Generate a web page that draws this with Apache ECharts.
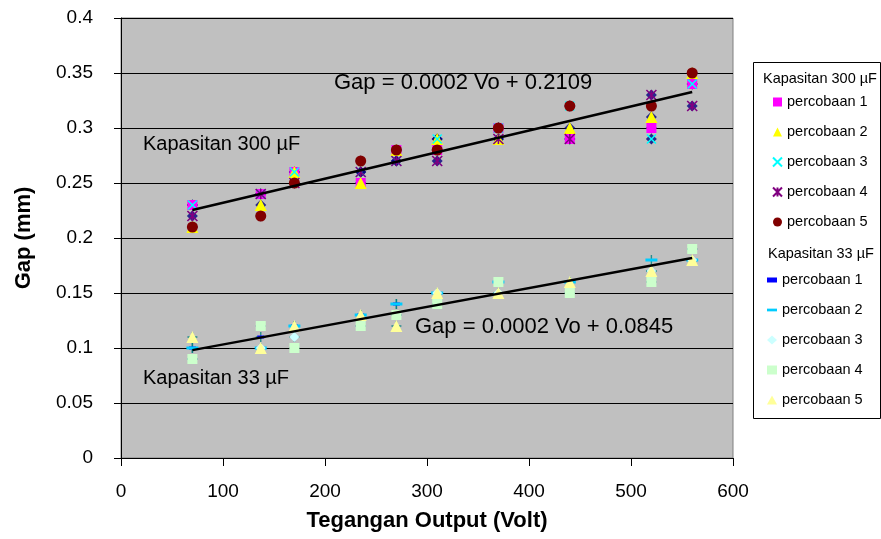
<!DOCTYPE html>
<html>
<head>
<meta charset="utf-8">
<script src="https://cdn.jsdelivr.net/npm/echarts@6/dist/echarts.min.js"></script>
<style>
  html, body { margin: 0; padding: 0; background: #fff; }
  #chart { width: 881px; height: 539px; }
</style>
</head>
<body>
<div id="chart"></div>
<script>
// tegangan output (volt)
var voltage = [70, 137, 170, 235, 270, 310, 370, 440, 520, 560];

// Kapasitan 300 uF, gap (mm)
var gap300P1 = [0.23, 0.24, 0.26, 0.25, 0.28, 0.28, 0.30, 0.29, 0.30, 0.34];
var gap300P2 = [0.21, 0.23, 0.26, 0.25, 0.28, 0.29, 0.29, 0.30, 0.31, 0.35];
var gap300P3 = [0.23, 0.24, 0.26, 0.26, 0.27, 0.29, 0.30, 0.32, 0.29, 0.34];
var gap300P4 = [0.22, 0.24, 0.25, 0.26, 0.27, 0.27, 0.29, 0.29, 0.33, 0.32];
var gap300P5 = [0.21, 0.22, 0.25, 0.27, 0.28, 0.28, 0.30, 0.32, 0.32, 0.35];

// Kapasitan 33 uF, gap (mm)
var gap33P1 = [0.10, 0.11, 0.12, 0.13, 0.14, 0.14, 0.16, 0.16, 0.17, 0.19];
var gap33P2 = [0.10, 0.10, 0.12, 0.13, 0.14, 0.15, 0.16, 0.16, 0.18, 0.18];
var gap33P3 = [0.09, 0.10, 0.11, 0.12, 0.13, 0.15, 0.15, 0.15, 0.17, 0.18];
var gap33P4 = [0.09, 0.12, 0.10, 0.12, 0.13, 0.14, 0.16, 0.15, 0.16, 0.19];
var gap33P5 = [0.11, 0.10, 0.12, 0.13, 0.12, 0.15, 0.15, 0.16, 0.17, 0.18];

var trialNames = ['percobaan 1', 'percobaan 2', 'percobaan 3', 'percobaan 4', 'percobaan 5'];
var groupNames = ['Kapasitan 300 µF', 'Kapasitan 33 µF'];
var equations = ['Gap = 0.0002 Vo + 0.2109', 'Gap = 0.0002 Vo + 0.0845'];

var xTicks = { min: 0, max: 600, step: 100 };
var yTicks = { min: 0, max: 0.4, step: 0.05 };

var FONT = 'Liberation Sans, Arial, sans-serif';

function pairs(ys) {
    return voltage.map(function (v, i) { return [v, ys[i]]; });
}

// semua titik satu kelompok, untuk garis trend (least squares seperti Excel)
function allPoints(list) {
    var pts = [];
    list.forEach(function (ys) { pts = pts.concat(pairs(ys)); });
    return pts;
}

function trend(pts) {
    var n = pts.length, sx = 0, sy = 0, sxx = 0, sxy = 0;
    pts.forEach(function (p) { sx += p[0]; sy += p[1]; sxx += p[0] * p[0]; sxy += p[0] * p[1]; });
    var b = (n * sxy - sx * sy) / (n * sxx - sx * sx);
    var a = (sy - b * sx) / n;
    var x0 = Math.min.apply(null, voltage), x1 = Math.max.apply(null, voltage);
    return [[x0, a + b * x0], [x1, a + b * x1]];
}

var all300 = allPoints([gap300P1, gap300P2, gap300P3, gap300P4, gap300P5]);
var all33 = allPoints([gap33P1, gap33P2, gap33P3, gap33P4, gap33P5]);

var X_PATH = 'path://M0,0L10,10M10,0L0,10';
var STAR_PATH = 'path://M0,0L10,10M10,0L0,10M5,0L5,10';
var PLUS_PATH = 'path://M5,0L5,10M0,5L10,5';
var SHORT_DASH = 'path://M0,0L5,0L5,2.5L0,2.5Z';
var LONG_DASH = 'path://M0,0L11,0L11,3L0,3Z';

function scatter(name, ys, symbol, size, color, stroke) {
    var s = {
        name: name,
        type: 'scatter',
        data: pairs(ys),
        symbol: symbol,
        symbolSize: size,
        itemStyle: { color: color, opacity: 1 }
    };
    if (stroke) {
        s.itemStyle.borderColor = color;
        s.itemStyle.borderWidth = 1.6;
    }
    return s;
}

var series = [
    // titik gabungan (di belakang)
    { name: groupNames[0], type: 'scatter', data: all300, symbol: 'diamond', symbolSize: 11,
      itemStyle: { color: '#000080' } },
    { name: groupNames[1], type: 'scatter', data: all33, symbol: PLUS_PATH, symbolSize: 10,
      itemStyle: { color: '#008080', borderColor: '#008080', borderWidth: 1.4 } },

    scatter('300-1', gap300P1, 'rect', 10, '#ff00ff'),
    scatter('300-2', gap300P2, 'triangle', 12, '#ffff00'),
    scatter('300-3', gap300P3, X_PATH, 9, '#00ffff', true),
    scatter('300-4', gap300P4, STAR_PATH, 10, '#800080', true),
    scatter('300-5', gap300P5, 'circle', 11, '#800000'),

    scatter('33-1', gap33P1, 'rect', [7, 3], '#0000ff'),
    scatter('33-2', gap33P2, 'rect', [12, 3], '#00ccff'),
    scatter('33-3', gap33P3, 'diamond', 10, '#ccffff'),
    scatter('33-4', gap33P4, 'rect', 10, '#ccffcc'),
    scatter('33-5', gap33P5, 'triangle', 12, '#ffff99'),

    { name: 'trend300', type: 'line', data: trend(all300), symbol: 'none', silent: true,
      lineStyle: { color: '#000', width: 2.5 }, z: 5 },
    { name: 'trend33', type: 'line', data: trend(all33), symbol: 'none', silent: true,
      lineStyle: { color: '#000', width: 2.5 }, z: 5 }
];

function legendBlock(prefix, left, top, width, icons) {
    return {
        orient: 'vertical',
        left: left,
        top: top,
        padding: 0,
        itemWidth: width,
        itemHeight: 9,
        itemGap: 14,
        selectedMode: false,
        data: [1, 2, 3, 4, 5].map(function (k, i) {
            var d = { name: prefix + '-' + k };
            if (icons && icons[i]) d.icon = icons[i];
            return d;
        }),
        formatter: function (name) { return trialNames[+name.split('-')[1] - 1]; },
        textStyle: { fontFamily: FONT, fontSize: 14.5, color: '#000', lineHeight: 16 }
    };
}

var chart = echarts.init(document.getElementById('chart'));

var option = {
    backgroundColor: '#fff',
    animation: false,
    grid: {
        left: 121, right: 148, top: 18, bottom: 81,
        show: true, backgroundColor: '#c0c0c0', borderColor: '#808080', borderWidth: 1
    },
    xAxis: {
        type: 'value',
        min: xTicks.min, max: xTicks.max, interval: xTicks.step,
        name: 'Tegangan Output (Volt)',
        nameLocation: 'middle',
        nameGap: 52,
        nameTextStyle: { fontFamily: FONT, fontSize: 22, fontWeight: 'bold', color: '#000' },
        axisLine: { show: true, lineStyle: { color: '#000', width: 1 } },
        axisTick: { show: true, length: 8, lineStyle: { color: '#000' } },
        axisLabel: { margin: 24, fontFamily: FONT, fontSize: 19, color: '#000' },
        splitLine: { show: false }
    },
    yAxis: {
        type: 'value',
        min: yTicks.min, max: yTicks.max, interval: yTicks.step,
        name: 'Gap (mm)',
        nameLocation: 'middle',
        nameGap: 86,
        nameTextStyle: { fontFamily: FONT, fontSize: 22, fontWeight: 'bold', color: '#000' },
        axisLine: { show: true, lineStyle: { color: '#000', width: 1 } },
        axisTick: { show: true, length: 7, lineStyle: { color: '#000' } },
        axisLabel: { margin: 28, fontFamily: FONT, fontSize: 19, color: '#000' },
        splitLine: { show: true, lineStyle: { color: '#000', width: 1 } }
    },
    legend: [
        legendBlock('300', 772, 94, 9),
        legendBlock('33', 767, 272, 10, [SHORT_DASH, LONG_DASH, null, null, null])
    ],
    graphic: [
        { type: 'rect', left: 753, top: 62, z: 0,
          shape: { width: 127, height: 356 },
          style: { fill: '#fff', stroke: '#000', lineWidth: 1 } },
        { type: 'text', x: 763, y: 79, z: 10,
          style: { text: groupNames[0], font: '14.5px ' + FONT, fill: '#000', verticalAlign: 'middle' } },
        { type: 'text', x: 768, y: 254, z: 10,
          style: { text: groupNames[1], font: '14.5px ' + FONT, fill: '#000', verticalAlign: 'middle' } },
        { type: 'text', x: 334, y: 83, z: 10,
          style: { text: equations[0], font: '22px ' + FONT, fill: '#000', verticalAlign: 'middle' } },
        { type: 'text', x: 143, y: 144, z: 10,
          style: { text: groupNames[0], font: '20px ' + FONT, fill: '#000', verticalAlign: 'middle' } },
        { type: 'text', x: 415, y: 327, z: 10,
          style: { text: equations[1], font: '22px ' + FONT, fill: '#000', verticalAlign: 'middle' } },
        { type: 'text', x: 143, y: 378, z: 10,
          style: { text: groupNames[1], font: '20px ' + FONT, fill: '#000', verticalAlign: 'middle' } }
    ],
    series: series
};

chart.setOption(option);
</script>
</body>
</html>
